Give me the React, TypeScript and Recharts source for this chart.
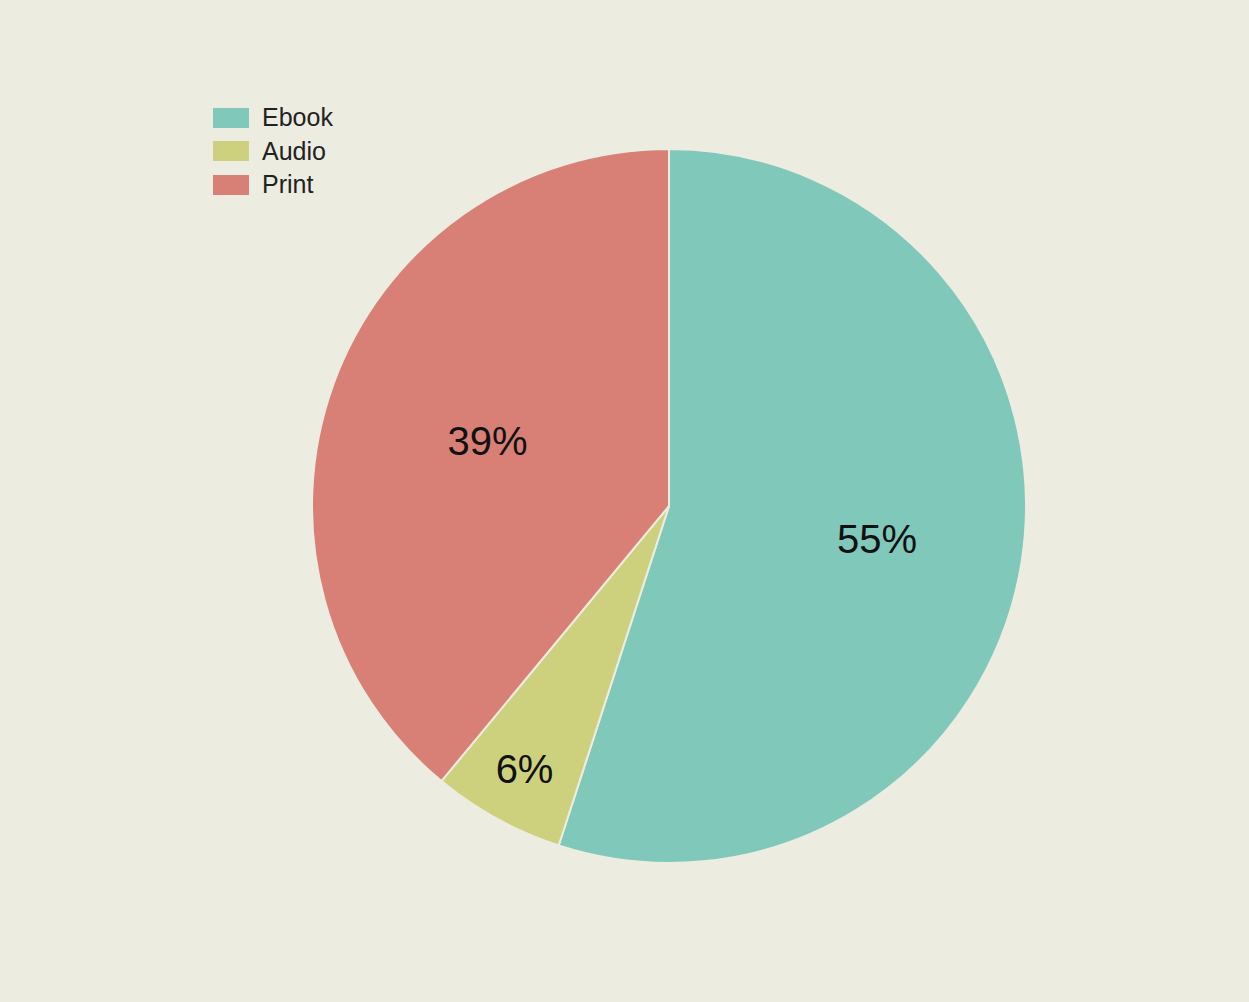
import React from "react";
import { PieChart, Pie, Cell } from "recharts";

const formats = ["Ebook", "Audio", "Print"];
const shares = [55, 6, 39];
const colors = ["#80C9BA", "#CDD17E", "#D98076"];
// how far out each percentage label sits, as a fraction of the radius
const labelReach = [0.59, 0.84, 0.54];

const BG = "#EDECE0";
const FONT = "'Liberation Sans', Arial, sans-serif";
const RADIAN = Math.PI / 180;

const chartData = formats.map((name, i) => ({ name, value: shares[i] }));

const renderLabel = (props: any) => {
  const { cx, cy, midAngle, outerRadius, index, value } = props;
  const r = outerRadius * labelReach[index];
  const x = cx + r * Math.cos(-midAngle * RADIAN);
  const y = cy + r * Math.sin(-midAngle * RADIAN);
  return (
    <text
      x={x}
      y={y}
      fill="#111"
      textAnchor="middle"
      dominantBaseline="central"
      fontSize={40}
      fontFamily={FONT}
    >
      {`${value}%`}
    </text>
  );
};

// legend sits on top of the chart so it does not shrink the plot area
const LegendBox = () => (
  <div
    style={{
      position: "absolute",
      top: 101,
      left: 213,
      fontFamily: FONT,
      zIndex: 2,
    }}
  >
    {formats.map((name, i) => (
      <div
        key={name}
        style={{ display: "flex", alignItems: "center", height: 33.5 }}
      >
        <div
          style={{
            width: 36,
            height: 20,
            background: colors[i],
            marginRight: 13,
          }}
        />
        <span style={{ fontSize: 25, color: "#222" }}>{name}</span>
      </div>
    ))}
  </div>
);

export default function App() {
  return (
    <div
      style={{
        position: "fixed",
        top: 0,
        left: 0,
        width: 1249,
        height: 1002,
        background: BG,
      }}
    >
      <LegendBox />
      <PieChart
        width={1249}
        height={1002}
        margin={{ top: 0, right: 0, bottom: 0, left: 0 }}
      >
        <Pie
          data={chartData}
          dataKey="value"
          nameKey="name"
          cx={669}
          cy={506}
          outerRadius={357}
          startAngle={90}
          endAngle={-270}
          stroke={BG}
          strokeWidth={2}
          labelLine={false}
          label={renderLabel}
          isAnimationActive={false}
        >
          {chartData.map((d, i) => (
            <Cell key={d.name} fill={colors[i]} />
          ))}
        </Pie>
      </PieChart>
    </div>
  );
}
